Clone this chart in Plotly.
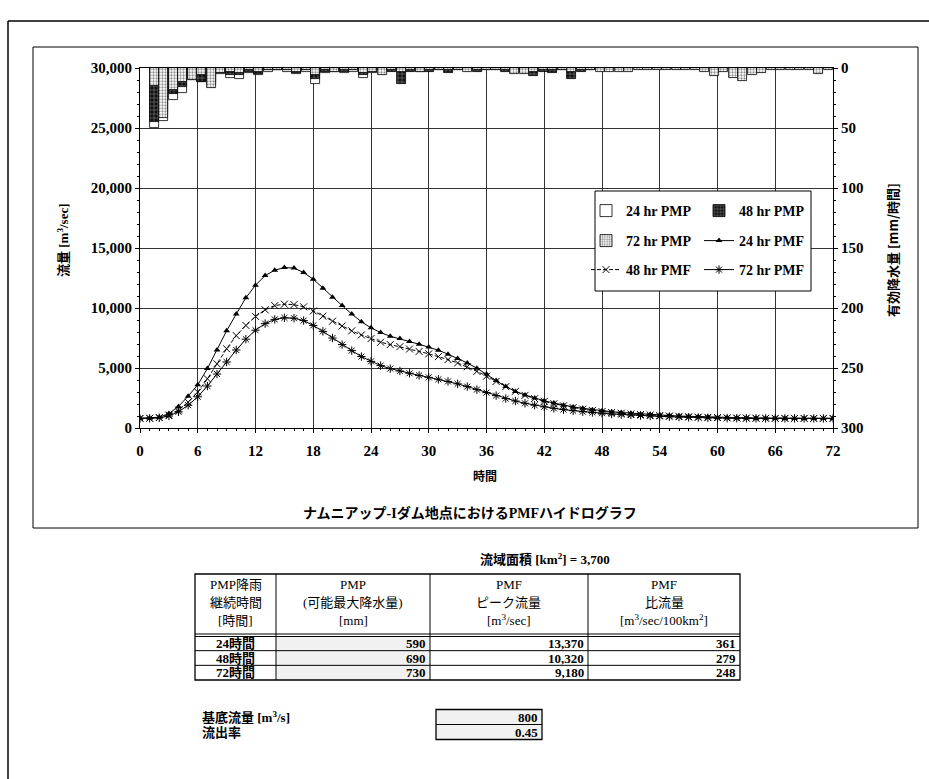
import plotly.graph_objects as go

# ---------------- data ----------------
hours = list(range(0, 73))

# PMF hydrographs [m3/sec], hourly from 0 to 72 h
pmf_24 = [800, 820, 900, 1200, 1800, 2650, 3600, 4950, 6500, 8100,
          9500, 10850, 11900, 12700, 13150, 13370, 13330, 12950, 12400, 11650,
          10900, 10200, 9500, 8850, 8350, 7950, 7650, 7450, 7200, 6980,
          6750, 6480, 6150, 5800, 5420, 4980, 4500, 3950, 3450, 3050,
          2750, 2500, 2270, 2080, 1900, 1760, 1640, 1530, 1440, 1360,
          1290, 1230, 1170, 1120, 1080, 1040, 1000, 970, 940, 910,
          880, 860, 840, 830, 820, 810, 805, 800, 800, 800,
          800, 800, 800]
pmf_48 = [800, 810, 870, 1080, 1500, 2150, 3000, 4100, 5350, 6600,
          7700, 8550, 9300, 9850, 10200, 10320, 10280, 10100, 9750, 9320,
          8900, 8500, 8100, 7750, 7450, 7150, 6950, 6780, 6580, 6380,
          6180, 5950, 5700, 5420, 5100, 4720, 4320, 3880, 3450, 3050,
          2720, 2450, 2220, 2020, 1850, 1700, 1570, 1460, 1370, 1290,
          1230, 1170, 1120, 1080, 1040, 1000, 970, 940, 910, 890,
          870, 850, 835, 825, 815, 808, 800, 800, 800, 800,
          800, 800, 800]
pmf_72 = [800, 805, 850, 1000, 1350, 1900, 2600, 3500, 4500, 5500,
          6500, 7400, 8150, 8700, 9050, 9180, 9150, 8950, 8550, 8050,
          7500, 6950, 6450, 5950, 5550, 5200, 4950, 4750, 4560, 4380,
          4220, 4060, 3880, 3680, 3450, 3200, 2950, 2700, 2450, 2250,
          2060, 1900, 1760, 1640, 1530, 1440, 1360, 1290, 1230, 1170,
          1120, 1080, 1040, 1000, 970, 940, 910, 890, 870, 850,
          835, 825, 815, 808, 800, 800, 800, 800, 800, 800,
          800, 800, 800]

# Effective rainfall hyetographs [mm/hour], hour 1 .. duration
pmp_24 = [50, 44, 27, 21, 10, 12, 14, 5, 8, 9, 4, 6, 3, 2, 3, 5, 3, 13, 4, 3,
          4, 3, 8, 4]
pmp_48 = [45, 38, 22, 16, 8, 12, 12, 4, 6, 6, 3, 5, 2, 2, 2, 4, 2, 9, 3, 2,
          3, 2, 6, 3, 2, 3, 13, 3, 3, 3, 2, 4, 2, 2, 3, 2, 2, 3, 3, 3,
          7, 3, 4, 2, 9, 3, 2, 2]
pmp_72 = [15, 42, 18, 12, 10, 6, 17, 4, 3, 4, 2, 3, 2, 2, 2, 3, 2, 6, 2, 3,
          2, 2, 4, 3, 6, 2, 3, 2, 3, 2, 2, 2, 2, 3, 2, 2, 2, 2, 5, 5,
          3, 2, 2, 2, 3, 2, 2, 3, 3, 3, 3, 2, 2, 2, 2, 2, 2, 2, 3, 7,
          3, 8, 11, 6, 4, 2, 2, 2, 2, 2, 5, 2]

x_ticks = list(range(0, 73, 6))
q_ticks = list(range(0, 30001, 5000))
r_ticks = list(range(0, 301, 50))

# summary table
durations = ["24時間", "48時間", "72時間"]
pmp_mm = [590, 690, 730]
peak_q = [13370, 10320, 9180]
specific_q = [361, 279, 248]
catchment_km2 = 3700
base_flow = 800
runoff_ratio = 0.45

# ---------------- layout helpers ----------------
W, H = 929, 779
L, R, T, B = 140, 833, 68, 428
PW, PH = R - L, B - T


def px(x):
    return (x - L) / PW


def py(y):
    return (B - y) / PH


SERIF = "Liberation Serif, Noto Sans CJK JP"
JP = "Noto Sans CJK JP, Liberation Serif"

fig = go.Figure()

# rainfall bars, hanging from the top on the secondary axes
fig.add_trace(go.Bar(
    x=list(range(1, len(pmp_24) + 1)), y=pmp_24, name="24 hr PMP",
    xaxis="x2", yaxis="y2", width=0.95,
    marker=dict(color="white", line=dict(color="black", width=0.8)),
    legend="legend"))
fig.add_trace(go.Bar(
    x=list(range(1, len(pmp_48) + 1)), y=pmp_48, name="48 hr PMP",
    xaxis="x2", yaxis="y2", width=0.95,
    marker=dict(color="#111111", line=dict(color="black", width=0.8),
                pattern=dict(shape="+", fgcolor="white", size=4, solidity=0.25)),
    legend="legend"))
fig.add_trace(go.Bar(
    x=list(range(1, len(pmp_72) + 1)), y=pmp_72, name="72 hr PMP",
    xaxis="x2", yaxis="y2", width=0.95,
    marker=dict(color="white", line=dict(color="black", width=0.8),
                pattern=dict(shape=".", fgcolor="#222222", size=3, solidity=0.45)),
    legend="legend2"))

# hydrographs
fig.add_trace(go.Scatter(
    x=hours, y=pmf_24, name="24 hr PMF", mode="lines+markers",
    line=dict(color="black", width=1),
    marker=dict(symbol="triangle-up", size=6, color="black"),
    legend="legend2"))
fig.add_trace(go.Scatter(
    x=hours, y=pmf_48, name="48 hr PMF", mode="lines+markers",
    line=dict(color="black", width=1, dash="4px,2px"),
    marker=dict(symbol="x-thin-open", size=7, color="black",
                line=dict(color="black", width=1)),
    legend="legend3"))
fig.add_trace(go.Scatter(
    x=hours, y=pmf_72, name="72 hr PMF", mode="lines+markers",
    line=dict(color="black", width=1),
    marker=dict(symbol="asterisk-open", size=7, color="black",
                line=dict(color="black", width=1)),
    legend="legend3"))

tickfont = dict(family=SERIF, size=15, color="black", weight="bold")

legend_common = dict(
    orientation="h", entrywidth=68, entrywidthmode="pixels",
    xanchor="left", yanchor="middle", bgcolor="rgba(0,0,0,0)",
    font=dict(family=SERIF, size=14, color="black", weight="bold"),
    tracegroupgap=0, itemclick=False)

fig.update_layout(
    width=W, height=H,
    margin=dict(l=L, r=W - R, t=T, b=H - B, pad=0),
    paper_bgcolor="white", plot_bgcolor="white",
    barmode="overlay", bargap=0,
    showlegend=True,
    legend=dict(x=px(586), y=py(211), **legend_common),
    legend2=dict(x=px(586), y=py(241), **legend_common),
    legend3=dict(x=px(586), y=py(270), **legend_common),
    xaxis=dict(range=[0, 72], tickvals=x_ticks, showgrid=True,
               gridcolor="#333333", gridwidth=1, zeroline=False,
               showline=True, linecolor="black", linewidth=1, mirror=True,
               ticks="outside", ticklen=4, tickcolor="black",
               ticklabelstandoff=5,
               minor=dict(dtick=1, ticklen=2, ticks="outside", tickcolor="black"),
               tickfont=tickfont),
    yaxis=dict(range=[0, 30000], tickvals=q_ticks, tickformat=",",
               showgrid=True, gridcolor="#333333", gridwidth=1, zeroline=False,
               showline=True, linecolor="black", linewidth=1, mirror=True,
               ticks="outside", ticklen=4, tickcolor="black",
               minor=dict(dtick=1000, ticklen=2, ticks="outside", tickcolor="black"),
               tickfont=tickfont),
    xaxis2=dict(overlaying="x", range=[-0.5, 72.5], visible=False),
    yaxis2=dict(overlaying="y", side="right", range=[300, 0],
                tickvals=r_ticks, showgrid=False, zeroline=False,
                showline=True, linecolor="black", linewidth=1,
                ticks="outside", ticklen=4, tickcolor="black",
                minor=dict(dtick=10, ticklen=2, ticks="outside", tickcolor="black"),
                tickfont=tickfont),
)

shapes = []
annotations = []


def rect(x0, y0, x1, y1, width=1, fill="rgba(0,0,0,0)", layer="above"):
    shapes.append(dict(type="rect", xref="paper", yref="paper",
                       x0=px(x0), x1=px(x1), y0=py(y0), y1=py(y1),
                       line=dict(color="black", width=width),
                       fillcolor=fill, layer=layer))


def hline(x0, x1, y, width=1):
    shapes.append(dict(type="line", xref="paper", yref="paper",
                       x0=px(x0), x1=px(x1), y0=py(y), y1=py(y),
                       line=dict(color="black", width=width)))


def vline(x, y0, y1, width=1):
    shapes.append(dict(type="line", xref="paper", yref="paper",
                       x0=px(x), x1=px(x), y0=py(y0), y1=py(y1),
                       line=dict(color="black", width=width)))


def text(x, y, s, size=12, anchor="center", family=SERIF, bold=False, angle=0):
    annotations.append(dict(
        xref="paper", yref="paper", x=px(x), y=py(y), text=s,
        showarrow=False, xanchor=anchor, yanchor="middle", textangle=angle,
        font=dict(family=family, size=size, color="black",
                  weight="bold" if bold else "normal")))


# page and chart frames
vline(8, 21, 779, width=1.5)
hline(8, 929, 21, width=1.5)
rect(33, 47, 918, 528, width=1)

# legend frame
rect(595, 191, 811, 291, width=1, fill="white")

# axis titles and chart title
text(63, 240, "流量 [m<sup>3</sup>/sec]", size=13, angle=-90, bold=True)
text(892, 250, "有効降水量 [mm/時間]", size=13, angle=-90, bold=True, family=JP)
text(485, 475, "時間", size=12, bold=True, family=JP)
text(470, 513, "ナムニアップ-Iダム地点におけるPMFハイドログラフ", size=14, bold=True)

# summary table
tx = [195, 276, 430, 588, 740]
t_top, t_head, t_bot = 574, 636, 680
row_h = (t_bot - t_head) / 3

text(545, 559, f"流域面積 [km<sup>2</sup>] = {catchment_km2:,}", size=13, bold=True)

for i in range(3):
    y0 = t_head + i * row_h
    shapes.append(dict(type="rect", xref="paper", yref="paper",
                       x0=px(tx[1]), x1=px(tx[2]), y0=py(y0), y1=py(y0 + row_h),
                       line=dict(width=0), fillcolor="#f1f1f1", layer="above"))

rect(tx[0], t_top, tx[-1], t_bot, width=1.3)
hline(tx[0], tx[-1], t_head - 2, width=1)
hline(tx[0], tx[-1], t_head + 0.5, width=1)
for i in (1, 2):
    hline(tx[0], tx[-1], t_head + i * row_h, width=1)
for xc in tx[1:-1]:
    vline(xc, t_top, t_bot, width=1)

headers = [
    ["PMP降雨", "継続時間", "[時間]"],
    ["PMP", "(可能最大降水量)", "[mm]"],
    ["PMF", "ピーク流量", "[m<sup>3</sup>/sec]"],
    ["PMF", "比流量", "[m<sup>3</sup>/sec/100km<sup>2</sup>]"],
]
head_rows = [584, 602, 620]
for c, lines in enumerate(headers):
    xc = (tx[c] + tx[c + 1]) / 2
    for r, s in enumerate(lines):
        text(xc, head_rows[r], s, size=13)

for i in range(3):
    yc = t_head + (i + 0.5) * row_h
    text((tx[0] + tx[1]) / 2, yc, durations[i], size=13, bold=True)
    text(tx[2] - 2, yc, f"{pmp_mm[i]:,}", size=13, anchor="right", bold=True)
    text(tx[3] - 2, yc, f"{peak_q[i]:,}", size=13, anchor="right", bold=True)
    text(tx[4] - 2, yc, f"{specific_q[i]:,}", size=13, anchor="right", bold=True)

# base flow and runoff ratio
text(200, 717, "基底流量 [m<sup>3</sup>/s]", size=13, anchor="left", bold=True)
text(200, 732, "流出率", size=13, anchor="left", bold=True)
shapes.append(dict(type="rect", xref="paper", yref="paper",
                   x0=px(436), x1=px(542), y0=py(709.5), y1=py(739.5),
                   line=dict(width=0), fillcolor="#f1f1f1", layer="above"))
rect(436, 709.5, 542, 739.5, width=1.3)
hline(436, 542, 724.5, width=1)
text(540, 717, f"{base_flow:,}", size=13, anchor="right", bold=True)
text(540, 732, f"{runoff_ratio:.2f}", size=13, anchor="right", bold=True)

fig.update_layout(shapes=shapes, annotations=annotations)

fig.write_html("out.html")
